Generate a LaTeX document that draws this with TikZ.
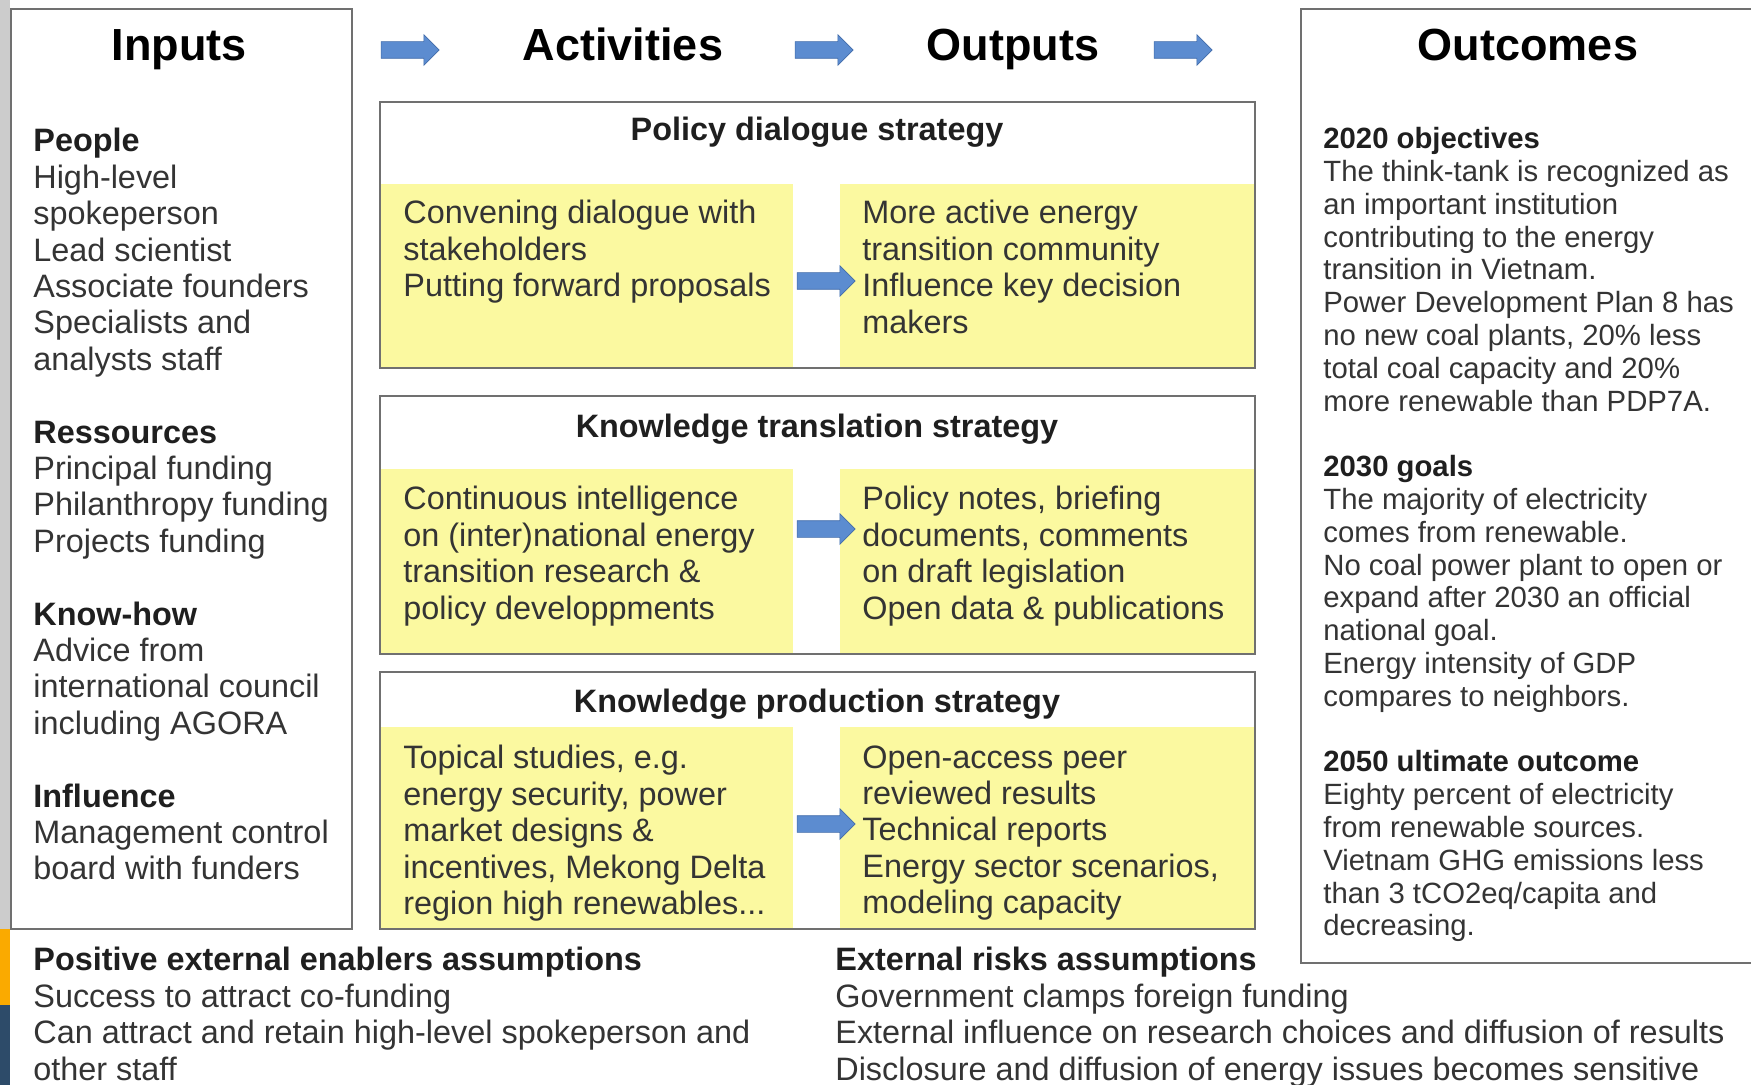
\documentclass[tikz,border=0pt]{standalone}
\usepackage{fontspec}
\setmainfont{Liberation Sans}
\usetikzlibrary{positioning,shapes.arrows}
\definecolor{boxgray}{RGB}{112,112,112}
\definecolor{notepad}{RGB}{251,249,160}
\definecolor{ink}{RGB}{52,52,52}
\definecolor{flowblue}{RGB}{92,140,208}
\definecolor{flowedge}{RGB}{66,108,170}
\definecolor{edgeorange}{RGB}{250,170,0}
\definecolor{edgeblue}{RGB}{45,75,105}
\tikzset{
  frame/.style={draw=boxgray,line width=1.2pt},
  pad/.style={fill=notepad},
  flow/.style={single arrow,fill=flowblue,draw=flowedge,line width=0.3pt,inner sep=0pt,
    text height=4pt,text depth=4pt,minimum height=29pt,single arrow head extend=3.5pt},
  colhead/.style={font=\fontsize{22.5}{27}\selectfont\bfseries,text=black,anchor=base,inner sep=0pt},
  strathead/.style={font=\fontsize{16.2}{19}\selectfont\bfseries,text=black!88,anchor=base,inner sep=0pt},
  body/.style={font=\fontsize{16.2}{18.2}\selectfont,text=ink,align=left,anchor=north west,inner sep=0pt},
  small/.style={font=\fontsize{14.65}{16.4}\selectfont,text=ink,align=left,anchor=north west,inner sep=0pt}
}
\newcommand*{\hd}[1]{\textbf{\color{black!88}#1}}

\begin{document}
\begin{tikzpicture}[x=0.5pt,y=-0.5pt]
\useasboundingbox (0,0) rectangle (1751,1085);
% Screenshot edge on the left
\fill[black!20] (0,0) rectangle (10,929);
\fill[edgeorange] (0,929) rectangle (10,1005);
\fill[edgeblue] (0,1005) rectangle (10,1085);
% Draw column boxes
\draw[frame,fill=white] (11,9) rectangle (352,929);
\draw[frame,fill=white] (1301,9) rectangle (1770,963);
% Draw strategy boxes with yellow pads
\foreach \top/\pad/\bot in {102/184/368,396/469/654,672/727/929}{
  \fill[pad] (381,\pad) rectangle (793,\bot);
  \fill[pad] (840,\pad) rectangle (1254,\bot);
  \draw[frame] (380,\top) rectangle (1255,\bot);
}
% Column titles and flow arrows
\node[colhead] (inputs) at (179,61) {Inputs};
\node[colhead] (activities) at (623,61) {Activities};
\node[colhead] (outputs) at (1013,61) {Outputs};
\node[colhead] (outcomes) at (1528,61) {Outcomes};
\node[flow] (a1) at (406,50) {};
\node[flow] (a2) at (820,50) {};
\node[flow] (a3) at (1179,50) {};
% Inputs column
\node[body] (people) at (33,128) {\hd{People}\\High-level\\spokeperson\\Lead scientist\\Associate founders\\Specialists and\\analysts staff\\[18.2pt]
  \hd{Ressources}\\Principal funding\\Philanthropy funding\\Projects funding\\[18.2pt]
  \hd{Know-how}\\Advice from\\international council\\including AGORA\\[18.2pt]
  \hd{Influence}\\Management control\\board with funders};
% Policy dialogue strategy
\node[strathead] (policy) at (817,141) {Policy dialogue strategy};
\node[body] (conv) at (403,200) {Convening dialogue with\\stakeholders\\Putting forward proposals};
\node[body] (active) at (862,200) {More active energy\\transition community\\Influence key decision\\makers};
\node[flow] (p1) at (822,281) {};
% Knowledge translation strategy
\node[strathead] (transl) at (817,438) {Knowledge translation strategy};
\node[body] (intel) at (403,486) {Continuous intelligence\\on (inter)national energy\\transition research \&\\policy developpments};
\node[body] (notes) at (862,486) {Policy notes, briefing\\documents, comments\\on draft legislation\\Open data \& publications};
\node[flow] (p2) at (822,529) {};
% Knowledge production strategy
\node[strathead] (prod) at (817,712) {Knowledge production strategy};
\node[body] (topic) at (403,745) {Topical studies, e.g.\\energy security, power\\market designs \&\\incentives, Mekong Delta\\region high renewables...};
\node[body] (open) at (862,745) {Open-access peer\\reviewed results\\Technical reports\\Energy sector scenarios,\\modeling capacity};
\node[flow] (p3) at (822,824) {};
% Outcomes column
\node[small] (goals) at (1323,127) {\hd{2020 objectives}\\The think-tank is recognized as\\an important institution\\contributing to the energy\\transition in Vietnam.\\Power Development Plan 8 has\\no new coal plants, 20\% less\\total coal capacity and 20\%\\more renewable than PDP7A.\\[16.4pt]
  \hd{2030 goals}\\The majority of electricity\\comes from renewable.\\No coal power plant to open or\\expand after 2030 an official\\national goal.\\Energy intensity of GDP\\compares to neighbors.\\[16.4pt]
  \hd{2050 ultimate outcome}\\Eighty percent of electricity\\from renewable sources.\\Vietnam GHG emissions less\\than 3 tCO2eq/capita and\\decreasing.};
% Assumptions
\node[body] (enablers) at (33,947) {\hd{Positive external enablers assumptions}\\Success to attract co-funding\\Can attract and retain high-level spokeperson and\\other staff};
\node[body] (risks) at (835,947) {\hd{External risks assumptions}\\Government clamps foreign funding\\External influence on research choices and diffusion of results\\Disclosure and diffusion of energy issues becomes sensitive};
\end{tikzpicture}
\end{document}
